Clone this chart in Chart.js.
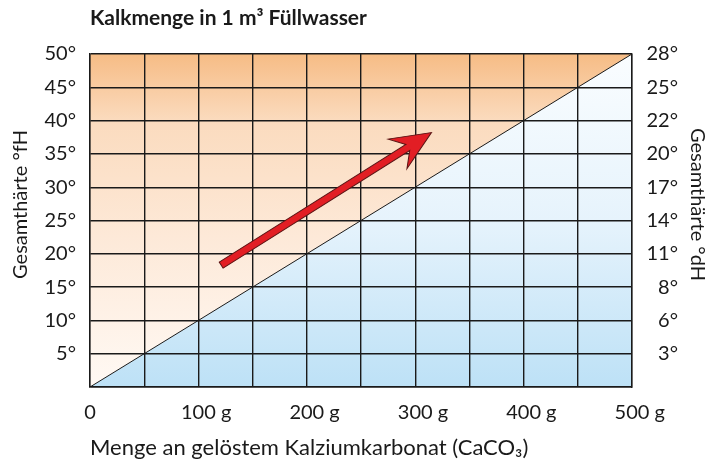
<!DOCTYPE html>
<html>
<head>
<meta charset="utf-8">
<script src="https://cdn.jsdelivr.net/npm/chart.js@4/dist/chart.umd.min.js"></script>
<style>
  html, body { margin: 0; padding: 0; background: #fff; }
</style>
</head>
<body>
<canvas id="kalkChart" width="713" height="463"></canvas>
<script>
// Texte
const chartTitle = 'Kalkmenge in 1 m³ Füllwasser';
const xTitle = 'Menge an gelöstem Kalziumkarbonat (CaCO₃)';
const yTitle = 'Gesamthärte °fH';
const y2Title = 'Gesamthärte °dH';

// Grenzlinie: Kalkmenge (g) gegen Härte (°fH)
const lineGrams = [0, 500];
const lineHardness = [0, 50];

// x-Achse
const xTickValues = [0, 100, 200, 300, 400, 500];
const xTickLabels = ['0', '100 g', '200 g', '300 g', '400 g', '500 g'];

// y-Achsen: links °fH, rechts °dH (gleiche Positionen)
const fhTicks = [5, 10, 15, 20, 25, 30, 35, 40, 45, 50];
const fhLabels = ['5°', '10°', '15°', '20°', '25°', '30°', '35°', '40°', '45°', '50°'];
const dhLabels = ['3°', '6°', '8°', '11°', '14°', '17°', '20°', '22°', '25°', '28°'];

// roter Pfeil (g, °fH)
const arrowFrom = [121, 18.3];
const arrowTo = [315, 38.2];

const FONT = 'Lato, "Open Sans", sans-serif';
const INK = '#1a1a1a';

const linePoints = lineGrams.map((g, i) => ({ x: g, y: lineHardness[i] }));

function orangeFill(context) {
    const { ctx, chartArea } = context.chart;
    if (!chartArea) return null;
    const g = ctx.createLinearGradient(0, chartArea.top, 0, chartArea.bottom);
    g.addColorStop(0, 'rgb(246,188,133)');
    g.addColorStop(0.2, 'rgb(251,219,190)');
    g.addColorStop(0.55, 'rgb(253,233,216)');
    g.addColorStop(1, 'rgb(255,249,244)');
    return g;
}

function blueFill(context) {
    const { ctx, chartArea } = context.chart;
    if (!chartArea) return null;
    const g = ctx.createLinearGradient(0, chartArea.top, 0, chartArea.bottom);
    g.addColorStop(0, 'rgb(250,253,255)');
    g.addColorStop(0.5, 'rgb(230,243,252)');
    g.addColorStop(1, 'rgb(189,225,246)');
    return g;
}

// Beschriftungen und Pfeil, die Chart.js so nicht platziert
const extrasPlugin = {
    id: 'extras',
    afterDraw(chart) {
        const ctx = chart.ctx;
        const xs = chart.scales.x;
        const ys = chart.scales.y;
        const area = chart.chartArea;
        ctx.save();

        // x-Beschriftung: Zahl mittig über der Gitterlinie
        ctx.font = '20px ' + FONT;
        ctx.fillStyle = INK;
        ctx.textBaseline = 'middle';
        ctx.textAlign = 'left';
        xTickValues.forEach((v, i) => {
            const px = xs.getPixelForValue(v);
            const numW = ctx.measureText(xTickLabels[i].split(' ')[0]).width;
            ctx.fillText(xTickLabels[i], px - numW / 2, area.bottom + 26);
        });

        // Achsentitel links / rechts
        const midY = (area.top + area.bottom) / 2 - 16;
        ctx.font = '20px ' + FONT;
        ctx.textAlign = 'center';
        ctx.save();
        ctx.translate(21, midY);
        ctx.rotate(-Math.PI / 2);
        ctx.fillText(yTitle, 0, 0);
        ctx.restore();
        ctx.save();
        ctx.translate(697, midY);
        ctx.rotate(Math.PI / 2);
        ctx.fillText(y2Title, 0, 0);
        ctx.restore();

        // Pfeil
        const x0 = xs.getPixelForValue(arrowFrom[0]);
        const y0 = ys.getPixelForValue(arrowFrom[1]);
        const x1 = xs.getPixelForValue(arrowTo[0]);
        const y1 = ys.getPixelForValue(arrowTo[1]);
        const len = Math.hypot(x1 - x0, y1 - y0);
        ctx.translate(x0, y0);
        ctx.rotate(Math.atan2(y1 - y0, x1 - x0));
        const hw = 3.6, notch = len - 28, wing = len - 40, ww = 17.5;
        ctx.beginPath();
        ctx.moveTo(0, -hw);
        ctx.lineTo(notch, -hw);
        ctx.lineTo(wing, -ww);
        ctx.lineTo(len, 0);
        ctx.lineTo(wing, ww);
        ctx.lineTo(notch, hw);
        ctx.lineTo(0, hw);
        ctx.closePath();
        ctx.fillStyle = 'rgb(226,30,36)';
        ctx.fill();
        ctx.lineWidth = 1;
        ctx.strokeStyle = '#5a1414';
        ctx.stroke();
        ctx.restore();
    }
};

const gridOpts = { color: INK, lineWidth: 1.4, drawTicks: false, z: 1 };
const borderOpts = { color: INK, width: 1.4, z: 1 };

new Chart(document.getElementById('kalkChart').getContext('2d'), {
    type: 'line',
    data: {
        datasets: [
            {
                data: linePoints,
                borderColor: INK,
                borderWidth: 1,
                pointRadius: 0,
                fill: 'end',
                backgroundColor: orangeFill
            },
            {
                data: linePoints,
                borderWidth: 0,
                pointRadius: 0,
                fill: 'start',
                backgroundColor: blueFill
            }
        ]
    },
    options: {
        responsive: false,
        animation: false,
        layout: { padding: { left: 0, right: 35, top: 0, bottom: 0 } },
        plugins: {
            legend: { display: false },
            tooltip: { enabled: false },
            title: {
                display: true,
                text: chartTitle,
                align: 'start',
                fullSize: false,
                color: INK,
                font: { family: FONT, size: 21, weight: 'bold' },
                padding: { top: 6, bottom: 22.8 }
            }
        },
        scales: {
            x: {
                type: 'linear',
                min: 0,
                max: 500,
                grid: gridOpts,
                border: borderOpts,
                ticks: { display: false, stepSize: 50 },
                title: {
                    display: true,
                    text: xTitle,
                    align: 'start',
                    color: INK,
                    font: { family: FONT, size: 22 },
                    padding: { top: 0, bottom: 2 }
                },
                afterFit: s => { s.height = 76; }
            },
            y: {
                type: 'linear',
                min: 0,
                max: 50,
                grid: gridOpts,
                border: borderOpts,
                ticks: {
                    stepSize: 5,
                    padding: 14,
                    color: INK,
                    font: { family: FONT, size: 20 },
                    callback: v => fhLabels[fhTicks.indexOf(v)] || ''
                },
                afterFit: s => { s.width = 90; }
            },
            y2: {
                type: 'linear',
                position: 'right',
                min: 0,
                max: 50,
                grid: { display: false, drawTicks: false },
                border: borderOpts,
                ticks: {
                    stepSize: 5,
                    crossAlign: 'far',
                    color: INK,
                    font: { family: FONT, size: 20 },
                    callback: v => dhLabels[fhTicks.indexOf(v)] || ''
                },
                afterFit: s => { s.width = 46; }
            }
        }
    },
    plugins: [extrasPlugin]
});
</script>
</body>
</html>
